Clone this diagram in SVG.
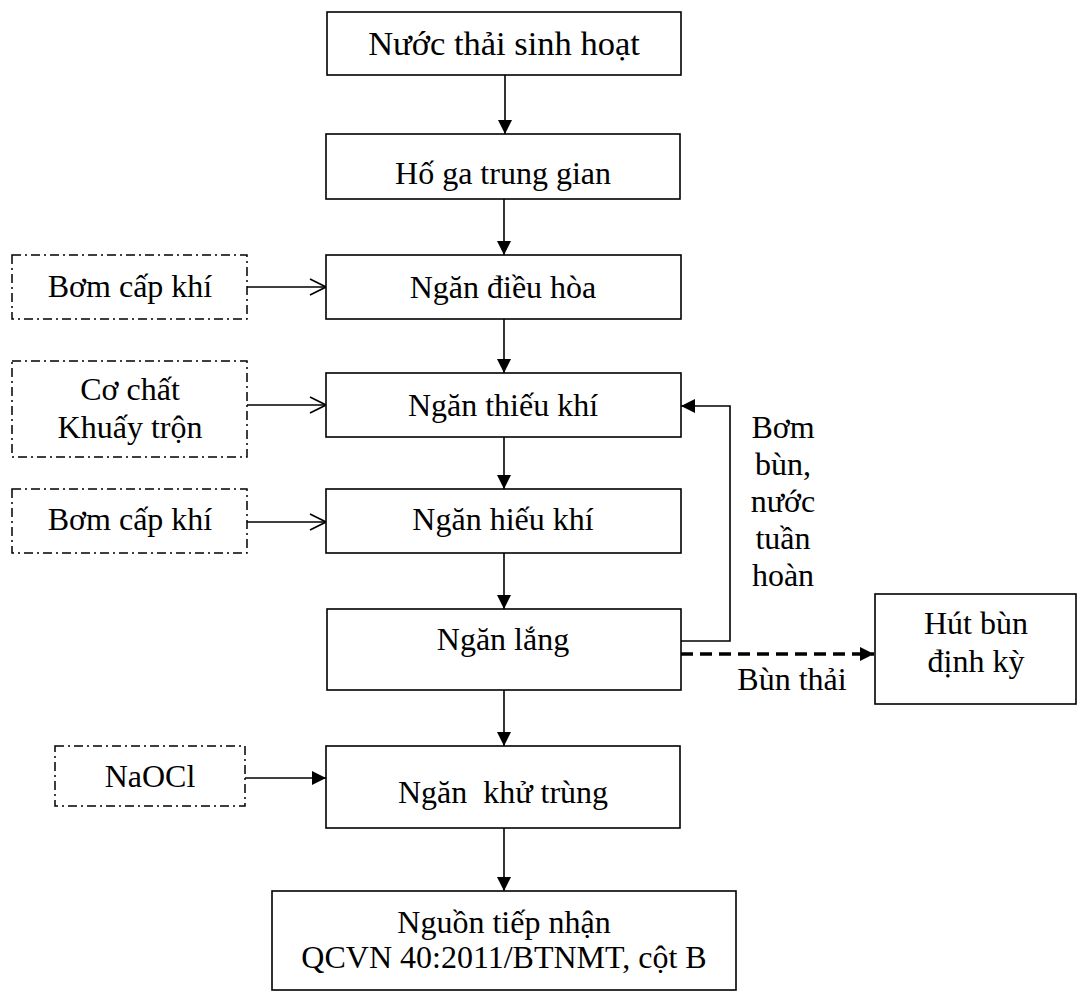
<svg xmlns="http://www.w3.org/2000/svg" width="1077" height="992" viewBox="0 0 1077 992">
<style>
.box{fill:#fff;stroke:#000;stroke-width:1.6}
.dbox{fill:#fff;stroke:#000;stroke-width:1.5;stroke-dasharray:9 4 2 4}
.t{font-family:"Liberation Serif","Times New Roman",serif;font-size:32px;fill:#000;text-anchor:middle}
.big{font-size:34.5px}
.c{fill:none;stroke:#000;stroke-width:1.6}
.cd{fill:none;stroke:#000;stroke-width:3.5;stroke-dasharray:12 7}
</style>
<defs>
<marker id="fa" viewBox="0 0 14 14" refX="14" refY="7" markerWidth="14" markerHeight="14" markerUnits="userSpaceOnUse" orient="auto">
<path d="M0,0 L14,7 L0,14 Z" fill="#000"/>
</marker>
<marker id="oa" viewBox="0 0 18 18" refX="17" refY="9" markerWidth="18" markerHeight="18" markerUnits="userSpaceOnUse" orient="auto">
<path d="M1,1 L17,9 L1,17" fill="none" stroke="#000" stroke-width="1.6"/>
</marker>
</defs>
<g id="connectors">
<line class="c" x1="505" y1="75" x2="505" y2="134" marker-end="url(#fa)"/>
<line class="c" x1="504" y1="199" x2="504" y2="255" marker-end="url(#fa)"/>
<line class="c" x1="504" y1="319" x2="504" y2="373" marker-end="url(#fa)"/>
<line class="c" x1="504" y1="437" x2="504" y2="489" marker-end="url(#fa)"/>
<line class="c" x1="504" y1="553" x2="504" y2="609" marker-end="url(#fa)"/>
<line class="c" x1="504" y1="690" x2="504" y2="746" marker-end="url(#fa)"/>
<line class="c" x1="504" y1="828" x2="504" y2="891" marker-end="url(#fa)"/>
<line class="c" x1="247" y1="287" x2="326" y2="287" marker-end="url(#oa)"/>
<line class="c" x1="247" y1="405" x2="326" y2="405" marker-end="url(#oa)"/>
<line class="c" x1="247" y1="522" x2="326" y2="522" marker-end="url(#oa)"/>
<line class="c" x1="245" y1="778" x2="326" y2="778" marker-end="url(#fa)"/>
<path class="c" d="M681,641 H730 V406 H681" marker-end="url(#fa)"/>
<line class="cd" x1="681" y1="654" x2="874" y2="654" marker-end="url(#fa)"/>
<text class="t" x="783" y="438">Bơm</text>
<text class="t" x="783" y="475">bùn,</text>
<text class="t" x="783" y="512">nước</text>
<text class="t" x="783" y="549">tuần</text>
<text class="t" x="783" y="586">hoàn</text>
<text class="t" x="792" y="690">Bùn thải</text>
</g>
<g id="n1"><rect class="box" x="327" y="12" width="354" height="63"/><text class="t big" x="504" y="55">Nước thải sinh hoạt</text></g>
<g id="n2"><rect class="box" x="326" y="134" width="354" height="65"/><text class="t" x="503" y="184">Hố ga trung gian</text></g>
<g id="n3"><rect class="box" x="326" y="255" width="355" height="64"/><text class="t" x="503" y="298">Ngăn điều hòa</text></g>
<g id="n4"><rect class="box" x="326" y="373" width="355" height="64"/><text class="t" x="503" y="416">Ngăn thiếu khí</text></g>
<g id="n5"><rect class="box" x="326" y="489" width="355" height="64"/><text class="t" x="503" y="530">Ngăn hiếu khí</text></g>
<g id="n6"><rect class="box" x="327" y="609" width="354" height="81"/><text class="t" x="503" y="650">Ngăn lắng</text></g>
<g id="n7"><rect class="box" x="326" y="746" width="354" height="82"/><text class="t" x="503" y="803" xml:space="preserve">Ngăn  khử trùng</text></g>
<g id="n8"><rect class="box" x="272" y="891" width="464" height="99"/><text class="t" x="504" y="933">Nguồn tiếp nhận</text><text class="t" x="504" y="968">QCVN 40:2011/BTNMT, cột B</text></g>
<g id="n9"><rect class="box" x="875" y="594" width="201" height="110"/><text class="t" x="976" y="634">Hút bùn</text><text class="t" x="976" y="672">định kỳ</text></g>
<g id="d1"><rect class="dbox" x="12" y="255" width="235" height="64"/><text class="t" x="130" y="297">Bơm cấp khí</text></g>
<g id="d2"><rect class="dbox" x="12" y="361" width="235" height="96"/><text class="t" x="130" y="400">Cơ chất</text><text class="t" x="130" y="438">Khuấy trộn</text></g>
<g id="d3"><rect class="dbox" x="12" y="489" width="235" height="64"/><text class="t" x="130" y="530">Bơm cấp khí</text></g>
<g id="d4"><rect class="dbox" x="55" y="746" width="190" height="60"/><text class="t" x="150" y="787">NaOCl</text></g>
</svg>
